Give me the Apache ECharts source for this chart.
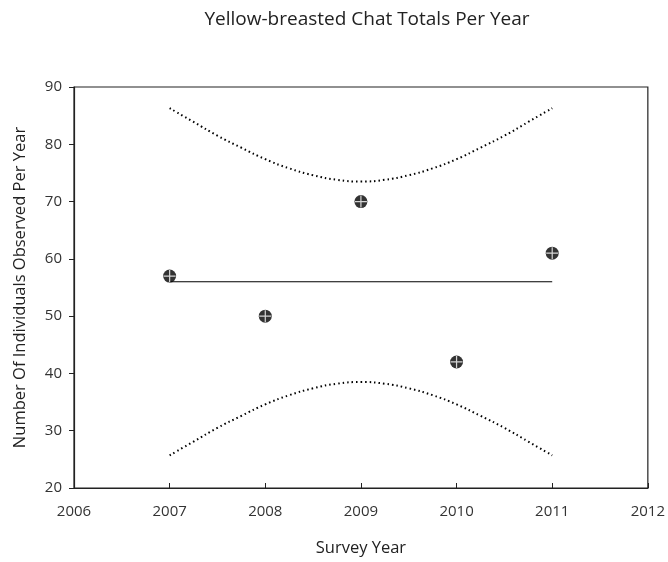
<!DOCTYPE html>
<html><head><meta charset="utf-8">
<script src="https://cdn.jsdelivr.net/npm/echarts@6/dist/echarts.min.js"></script>
<style>html,body{margin:0;padding:0;background:#fff}#c{width:668px;height:562px}</style>
</head><body><div id="c"></div>
<script>
const years = [2007, 2008, 2009, 2010, 2011];
const totals = [57, 50, 70, 42, 61];
const fitYears = [2007, 2011];
const fitValues = [56, 56];
const bandX = [2007, 2007.25, 2007.5, 2007.75, 2008, 2008.25, 2008.5, 2008.75, 2009, 2009.25, 2009.5, 2009.75, 2010, 2010.25, 2010.5, 2010.75, 2011];
const upperBand = [86.3, 83.9, 81.5, 79.4, 77.4, 75.8, 74.6, 73.8, 73.5, 73.8, 74.6, 75.8, 77.4, 79.4, 81.5, 83.9, 86.3];
const lowerBand = [25.7, 28.1, 30.5, 32.6, 34.6, 36.2, 37.4, 38.2, 38.5, 38.2, 37.4, 36.2, 34.6, 32.6, 30.5, 28.1, 25.7];
const xTicks = [2006, 2007, 2008, 2009, 2010, 2011, 2012];

const font = '"Open Sans", "Liberation Sans", sans-serif';
const chart = echarts.init(document.getElementById('c'));
const pts = years.map((y, i) => [y, totals[i]]);
chart.setOption({
  animation: false,
  backgroundColor: '#fff',
  title: {
    text: 'Yellow-breasted Chat Totals Per Year',
    left: 362, top: 5, textAlign: 'center',
    textStyle: {fontFamily: font, fontSize: 19, fontWeight: 'normal', color: '#222'}
  },
  grid: {left: 74, right: 19, top: 87, bottom: 72, show: true, borderColor: '#222', borderWidth: 1.2},
  xAxis: {
    type: 'value', min: 2006, max: 2012, interval: 1,
    name: 'Survey Year', nameLocation: 'middle', nameGap: 52, nameMoveOverlap: false,
    nameTextStyle: {fontFamily: font, fontSize: 16.5, color: '#222'},
    axisLine: {show: true, lineStyle: {color: '#222', width: 1.2}},
    axisTick: {show: true, inside: true, length: 5, lineStyle: {color: '#222'}},
    axisLabel: {fontFamily: font, fontSize: 15, color: '#333', margin: 16, formatter: v => String(xTicks[xTicks.indexOf(v)])},
    splitLine: {show: false}
  },
  yAxis: {
    type: 'value', min: 20, max: 90, interval: 10,
    name: 'Number Of Individuals Observed Per Year', nameLocation: 'middle', nameGap: 45, nameMoveOverlap: false,
    nameTextStyle: {fontFamily: font, fontSize: 16.5, color: '#222'},
    axisLine: {show: true, lineStyle: {color: '#222', width: 1.2}},
    axisTick: {show: true, inside: false, length: 5, lineStyle: {color: '#222'}},
    axisLabel: {fontFamily: font, fontSize: 15, color: '#333', margin: 12},
    splitLine: {show: false}
  },
  series: [
    {type: 'line', data: bandX.map((x, i) => [x, upperBand[i]]), smooth: true, symbol: 'none',
     lineStyle: {color: '#000', width: 2, type: [1.5, 3]}},
    {type: 'line', data: bandX.map((x, i) => [x, lowerBand[i]]), smooth: true, symbol: 'none',
     lineStyle: {color: '#000', width: 2, type: [1.5, 3]}},
    {type: 'line', data: fitYears.map((x, i) => [x, fitValues[i]]), symbol: 'none',
     lineStyle: {color: '#000', width: 1.2}},
    {type: 'scatter', data: pts, symbol: 'circle', symbolSize: 13,
     itemStyle: {color: '#000'}, z: 5},
    {type: 'scatter', data: pts, symbol: 'path://M0,5.4H12V6.6H0Z M5.4,0H6.6V12H5.4Z', symbolSize: 12,
     itemStyle: {color: '#fff'}, z: 6}
  ]
});
</script></body></html>
